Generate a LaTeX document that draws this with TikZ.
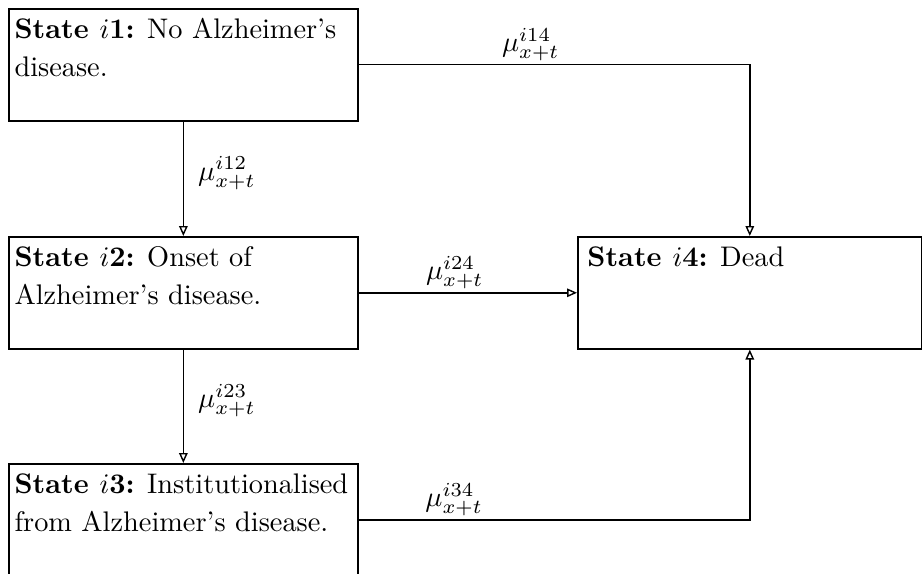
\documentclass[tikz,border=0pt]{standalone}
\usetikzlibrary{arrows.meta}
\begin{document}
\begin{tikzpicture}[x=0.353pt,y=-0.353pt,
  statebox/.style={draw, line width=0.6pt, anchor=north west, minimum width=123.2pt, minimum height=39.5pt, inner sep=0pt},
  stlabel/.style={anchor=north west, align=left, inner xsep=2.1pt, inner ysep=3.5pt, font=\fontsize{10}{13.4}\selectfont},
  trans/.style={draw, line width=0.5pt, -{Triangle[open,length=3.5pt,width=3pt]}},
  rate/.style={inner sep=1pt}]
\useasboundingbox (0,0) rectangle (922,574);
\node[statebox, label={[stlabel]north west:{\textbf{State $i$1:} No Alzheimer's\\disease.}}] (s1) at (8,8) {};
\node[statebox, label={[stlabel]north west:{\textbf{State $i$2:} Onset of\\Alzheimer's disease.}}] (s2) at (8,236) {};
\node[statebox, label={[stlabel]north west:{\textbf{State $i$3:} Institutionalised\\from Alzheimer's disease.}}] (s3) at (8,463) {};
\node[statebox, minimum width=121.4pt, label={[stlabel, inner xsep=3.5pt]north west:{\textbf{State $i$4:} Dead}}] (s4) at (577,236) {};
\draw[trans] (s1.east) -| node[rate, pos=0.22, above] {$\mu^{i14}_{x+t}$} (s4.north);
\draw[trans] (s1.south) -- node[rate, pos=0.45, right, xshift=4pt] {$\mu^{i12}_{x+t}$} (s2.north);
\draw[trans] (s2.east) -- node[rate, pos=0.44, above] {$\mu^{i24}_{x+t}$} (s4.west);
\draw[trans] (s2.south) -- node[rate, pos=0.45, right, xshift=4pt] {$\mu^{i23}_{x+t}$} (s3.north);
\draw[trans] (s3.east) -| node[rate, pos=0.122, above] {$\mu^{i34}_{x+t}$} (s4.south);
\end{tikzpicture}
\end{document}
